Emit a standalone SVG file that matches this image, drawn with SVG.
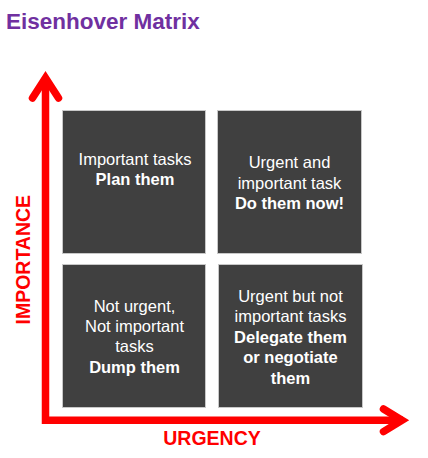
<svg xmlns="http://www.w3.org/2000/svg" width="428" height="458" viewBox="0 0 428 458">
<style>
.box{fill:#404040;stroke:#c8c8c8;stroke-width:1}
.t{font-family:"Liberation Sans",Arial,sans-serif;font-size:16.5px;fill:#ffffff;text-anchor:middle}
.b{font-weight:bold}
.axis{fill:none;stroke:#ff0000;stroke-width:7.5}
.lbl{font-family:"Liberation Sans",Arial,sans-serif;font-size:19.5px;font-weight:bold;fill:#ff0000;text-anchor:middle}
</style>
<rect width="428" height="458" fill="#ffffff"/>
<text x="6" y="29" font-family="'Liberation Sans',Arial,sans-serif" font-size="22.5" font-weight="bold" fill="#7030A0">Eisenhover Matrix</text>
<g id="connectors">
<path class="axis" d="M45.5,80 L45.5,420.3 L403,420.3" stroke-linejoin="miter"/>
<path class="axis" d="M32.5,98 L45.5,78 L58.5,98" stroke-linecap="round" stroke-linejoin="miter"/>
<path class="axis" d="M383.5,409 L402,420.3 L383.5,431.6" stroke-linecap="round" stroke-linejoin="miter"/>
</g>
<g id="label-importance"><text class="lbl" transform="translate(30,259.7) rotate(-90)">IMPORTANCE</text></g>
<g id="label-urgency"><text class="lbl" x="212" y="445">URGENCY</text></g>
<g id="q1">
<rect class="box" x="62.5" y="110.5" width="143" height="143"/>
<text class="t" x="135" y="165">Important tasks</text>
<text class="t b" x="135" y="185">Plan them</text>
</g>
<g id="q2">
<rect class="box" x="217.5" y="110.5" width="144" height="143"/>
<text class="t" x="289.5" y="168">Urgent and</text>
<text class="t" x="289.5" y="188.5">important task</text>
<text class="t b" x="289.5" y="209">Do them now!</text>
</g>
<g id="q3">
<rect class="box" x="62.5" y="264.5" width="143" height="143"/>
<text class="t" x="134.5" y="312">Not urgent,</text>
<text class="t" x="134.5" y="332">Not important</text>
<text class="t" x="134.5" y="352">tasks</text>
<text class="t b" x="134.5" y="372.5">Dump them</text>
</g>
<g id="q4">
<rect class="box" x="218.5" y="264.5" width="144" height="143"/>
<text class="t" x="290.5" y="301.5">Urgent but not</text>
<text class="t" x="290.5" y="322">important tasks</text>
<text class="t b" x="290.5" y="342.5">Delegate them</text>
<text class="t b" x="290.5" y="363">or negotiate</text>
<text class="t b" x="290.5" y="383.5">them</text>
</g>
</svg>
